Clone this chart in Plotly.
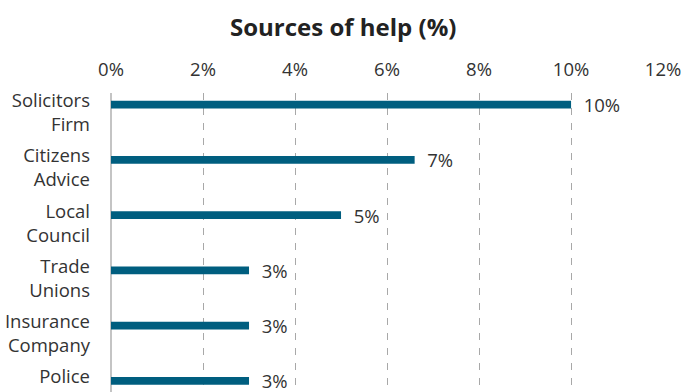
import plotly.graph_objects as go

# Sources of help, share of respondents (%)
categories = [
    "Solicitors<br>Firm",
    "Citizens<br>Advice",
    "Local<br>Council",
    "Trade<br>Unions",
    "Insurance<br>Company",
    "Police<br>\u00a0",
]
shares = [10.0, 6.6, 5.0, 3.0, 3.0, 3.0]
tick_values = [0, 2, 4, 6, 8, 10, 12]
tick_labels = [f"{v}%" for v in tick_values]

BAR_COLOR = "#005e7f"
TEXT_COLOR = "#333333"
FONT = "Open Sans"

fig = go.Figure(
    go.Bar(
        x=shares,
        y=list(range(len(categories))),
        orientation="h",
        width=0.14,
        marker=dict(color=BAR_COLOR, line=dict(width=0)),
        texttemplate="\u00a0\u00a0%{x:.0f}%",
        textposition="outside",
        constraintext="none",
        textfont=dict(family=FONT, size=18.5, color=TEXT_COLOR),
        cliponaxis=False,
        hoverinfo="skip",
    )
)

fig.update_layout(
    width=681,
    height=392,
    margin=dict(l=111, r=17, t=93, b=0),
    paper_bgcolor="white",
    plot_bgcolor="white",
    showlegend=False,
    title=dict(
        text="<b>Sources of help (%)</b>",
        x=0.504,
        xanchor="center",
        y=1 - 28 / 392,
        yanchor="middle",
        yref="container",
        font=dict(family=FONT, size=24, color="#222222"),
    ),
    font=dict(family=FONT, color=TEXT_COLOR),
)

fig.update_xaxes(
    side="top",
    range=[0, 12.02],
    tickvals=tick_values,
    ticktext=tick_labels,
    tickfont=dict(family=FONT, size=18.5, color=TEXT_COLOR),
    ticks="",
    ticklabelstandoff=12,
    ticklabeloverflow="allow",
    automargin=False,
    showgrid=True,
    gridcolor="#a8a8a8",
    gridwidth=1,
    griddash="7px,8px",
    zeroline=True,
    zerolinecolor="#c4c4c4",
    zerolinewidth=2,
    showline=False,
    fixedrange=True,
)

fig.update_yaxes(
    range=[5.2, -0.21],
    tickvals=list(range(len(categories))),
    ticktext=categories,
    tickfont=dict(family=FONT, size=18.5, color=TEXT_COLOR),
    ticks="",
    ticklabelstandoff=20,
    ticklabelshift=-8,
    ticklabeloverflow="allow",
    automargin=False,
    showgrid=False,
    zeroline=False,
    showline=False,
    fixedrange=True,
)

fig.write_html("out.html")
